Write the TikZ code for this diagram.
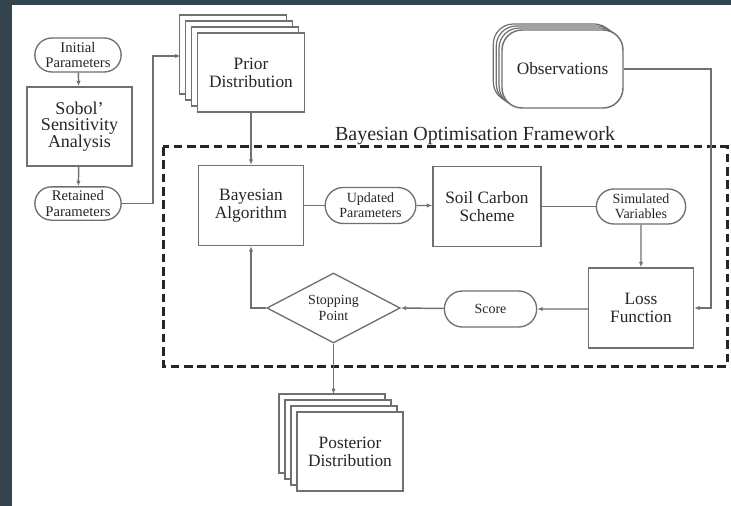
\documentclass[tikz,border=0pt]{standalone}
\usepackage{fontspec}
\setmainfont{Liberation Serif}
\usetikzlibrary{arrows.meta,shapes.geometric,shapes.misc,shadows}
\definecolor{slate}{RGB}{52,69,79}
\definecolor{linegray}{RGB}{112,112,112}

\begin{document}
\begin{tikzpicture}[x=0.75pt,y=-0.75pt,>={Latex[length=4pt,width=3.2pt]},
	every node/.style={text=black!85,align=center},
	box/.style={draw=linegray,line width=1.1pt,fill=white,font=\fontsize{13}{13.5}\selectfont},
	pill/.style={rounded rectangle,draw=linegray,line width=1pt,fill=white,inner sep=1pt,font=\fontsize{10.5}{11.5}\selectfont},
	cards/.style={copy shadow={draw=linegray,line width=1.1pt,shadow xshift=-13.5pt,shadow yshift=13.5pt},
		copy shadow={draw=linegray,line width=1.1pt,shadow xshift=-9pt,shadow yshift=9pt},
		copy shadow={draw=linegray,line width=1.1pt,shadow xshift=-4.5pt,shadow yshift=4.5pt}},
	thincards/.style={copy shadow={draw=linegray,line width=0.9pt,shadow xshift=-6.5pt,shadow yshift=4.5pt},
		copy shadow={draw=linegray,line width=0.9pt,shadow xshift=-4.3pt,shadow yshift=3pt},
		copy shadow={draw=linegray,line width=0.9pt,shadow xshift=-2.2pt,shadow yshift=1.5pt}},
	link/.style={draw=linegray,line width=1.1pt}]
	\useasboundingbox (0,0) rectangle (731,506);
	\fill[slate] (0,0) rectangle (731,506);
	\fill[white] (12,5) rectangle (731,506);
	%framework
	\draw[black!85,line width=2.25pt,dash pattern=on 6.5pt off 3.5pt] (163,147) rectangle (727,366);
	\node[font=\fontsize{15}{16}\selectfont] (frametitle) at (475,136) {Bayesian Optimisation Framework};
	
	\node[pill,minimum width=66.75pt,minimum height=25.5pt,font=\fontsize{11}{11.5}\selectfont] (init) at (78,55) {Initial\\Parameters};
	\node[box,minimum width=78.75pt,minimum height=59.25pt,font=\fontsize{13.5}{12.5}\selectfont] (sobol) at (79.5,126.5) {Sobol’\\Sensitivity\\Analysis};
	\node[pill,minimum width=66.75pt,minimum height=25pt,font=\fontsize{11}{11.5}\selectfont] (retained) at (78,203.5) {Retained\\Parameters};
	\node[box,cards,minimum width=80pt,minimum height=59.25pt] (prior) at (251,72.5) {Prior\\Distribution};
	\node[box,thincards,rounded corners=15pt,minimum width=90.75pt,minimum height=58.5pt] (obs) at (562.5,69) {Observations};
	\node[box,minimum width=78.75pt,minimum height=60pt] (bayes) at (251,205.5) {Bayesian\\Algorithm};
	\node[pill,minimum width=70pt,minimum height=27pt] (updated) at (370.5,205.5) {Updated\\Parameters};
	\node[box,minimum width=81pt,minimum height=60pt] (soil) at (487,206.5) {Soil Carbon\\Scheme};
	\node[pill,minimum width=69pt,minimum height=26.25pt] (simulated) at (641,206.5) {Simulated\\Variables};
	\node[box,minimum width=78.75pt,minimum height=60pt] (loss) at (641,308) {Loss\\Function};
	\node[pill,minimum width=71.25pt,minimum height=27pt] (score) at (490.5,309) {Score};
	\node[diamond,shape aspect=1.9,draw=linegray,line width=1pt,fill=white,inner sep=0pt,minimum width=100pt,minimum height=52.5pt,font=\fontsize{10.5}{11.5}\selectfont] (stop) at (333.5,308) {Stopping\\Point};
	\node[box,cards,minimum width=79.5pt,minimum height=59.25pt] (posterior) at (350,451.5) {Posterior\\Distribution};
	
	\coordinate (retturn) at (153,56);
	\coordinate (priorback) at (180.5,56);
	\coordinate (obsturn) at (711,308);
	\coordinate (postback) at (333.5,394);
	
	\draw[link,->] (init) -- (sobol);
	\draw[link,->] (sobol) -- (retained);
	\draw[link,->] (retained.east) -| (retturn) -- (priorback);
	\draw[link,->] (prior) -- (bayes);
	\draw[link] (bayes) -- (updated);
	\draw[link,->] (updated) -- (soil.west |- updated);
	\draw[link] (soil.east |- simulated) -- (simulated);
	\draw[link,->] (simulated) -- (simulated |- loss.north);
	\draw[link,->] (obs.east) -| (obsturn) -- (loss.east);
	\draw[link,->] (loss.west |- score) -- (score);
	\draw[link,->] (score) -- (stop.east);
	\draw[link,->] (stop.west) -| (bayes.south);
	\draw[link,->] (stop.south) -- (postback);
\end{tikzpicture}
\end{document}
